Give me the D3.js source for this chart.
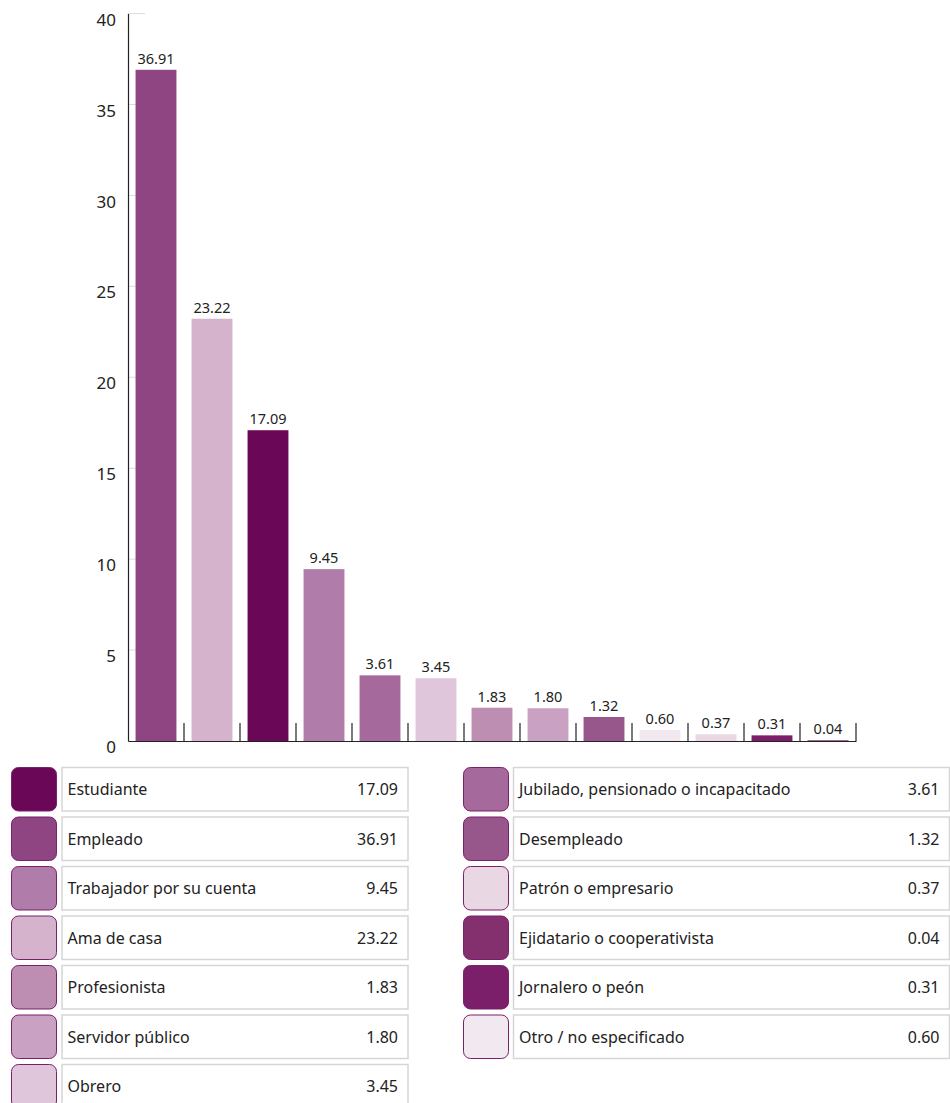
<!DOCTYPE html>
<html><head><meta charset="utf-8">
<script src="https://cdn.jsdelivr.net/npm/d3@7"></script>
<style>html,body{margin:0;padding:0;background:#fff;}svg{display:block;font-family:"Noto Sans","Open Sans",sans-serif;}</style>
</head><body>
<svg id="chart" width="950" height="1103"></svg>
<script>
const categories = ["Empleado","Ama de casa","Estudiante","Trabajador por su cuenta","Jubilado, pensionado o incapacitado","Obrero","Profesionista","Servidor público","Desempleado","Otro / no especificado","Patrón o empresario","Jornalero o peón","Ejidatario o cooperativista"];
const values = [36.91,23.22,17.09,9.45,3.61,3.45,1.83,1.80,1.32,0.60,0.37,0.31,0.04];
const colors = ["#8e4582","#d5b3cd","#6b0757","#b07ca9","#a56a9b","#dfc6da","#bd8eb2","#c9a2c3","#98578b","#f2e8f0","#e9d7e4","#7b1f6a","#84306f"];
const yTicks = [0,5,10,15,20,25,30,35,40];
const legendLeft = ["Estudiante","Empleado","Trabajador por su cuenta","Ama de casa","Profesionista","Servidor público","Obrero"];
const legendRight = ["Jubilado, pensionado o incapacitado","Desempleado","Patrón o empresario","Ejidatario o cooperativista","Jornalero o peón","Otro / no especificado"];

const svg = d3.select("#chart");
const x0 = 128, x1 = 856, yBase = 741, yTop = 13.6;
const x = d3.scaleBand().domain(categories).range([x0, x1]).paddingInner(0.27).paddingOuter(0.135);
const y = d3.scaleLinear().domain([0, 40]).range([yBase, yTop]);
const step = x.step();

// light grid stubs
svg.append("g").selectAll("line").data(yTicks.slice(1)).join("line")
  .attr("x1", x0).attr("x2", x0 + 17).attr("y1", d => y(d)).attr("y2", d => y(d))
  .attr("stroke", "#dcdcdc").attr("stroke-width", 1);

// bars
svg.append("g").selectAll("rect").data(categories).join("rect")
  .attr("x", d => x(d)).attr("width", x.bandwidth())
  .attr("y", (d, i) => y(values[i])).attr("height", (d, i) => yBase - y(values[i]))
  .attr("fill", (d, i) => colors[i]);

// value labels
svg.append("g").selectAll("text").data(categories).join("text")
  .attr("x", d => x(d) + x.bandwidth() / 2).attr("y", (d, i) => y(values[i]) - 6)
  .attr("text-anchor", "middle").attr("font-size", 14.5).attr("fill", "#222")
  .text((d, i) => values[i].toFixed(2));

// y axis
const yAxis = d3.axisLeft(y).tickValues(yTicks).tickSize(0).tickPadding(12);
const gy = svg.append("g").attr("transform", `translate(${x0},0)`).call(yAxis);
gy.select(".domain").attr("stroke", "#222").attr("stroke-width", 1.2);
gy.selectAll("text").attr("font-size", 17).attr("fill", "#222").attr("font-family", "Noto Sans").attr("dy", "0.68em");

// x axis baseline and category ticks
const xAxis = d3.axisBottom(x).tickSize(0).tickFormat("");
const gx = svg.append("g").attr("transform", `translate(0,${yBase})`).call(xAxis);
gx.select(".domain").attr("stroke", "#222").attr("stroke-width", 1.2);
svg.append("g").selectAll("line").data(categories).join("line")
  .attr("x1", d => x(d) - x.paddingInner() * step / 2 + step).attr("x2", d => x(d) - x.paddingInner() * step / 2 + step)
  .attr("y1", yBase - 18).attr("y2", yBase).attr("stroke", "#222").attr("stroke-width", 1.2);

// legend
const colorOf = n => colors[categories.indexOf(n)];
const valOf = n => values[categories.indexOf(n)];
const rowPitch = 49.5, rowTop = 767.5, rowH = 43.5;
function legend(list, sx, sw, bx, bw) {
  const g = svg.append("g");
  const rows = g.selectAll("g").data(list).join("g").attr("transform", (d, i) => `translate(0,${rowTop + i * rowPitch})`);
  rows.append("rect").attr("x", sx).attr("y", 0).attr("width", sw).attr("height", rowH).attr("rx", 7)
    .attr("fill", d => colorOf(d)).attr("stroke", "#7b1f6a").attr("stroke-width", 1);
  rows.append("rect").attr("x", bx).attr("y", 0).attr("width", bw).attr("height", rowH)
    .attr("fill", "#fff").attr("stroke", "#d6d6d6").attr("stroke-width", 1.5);
  rows.append("text").attr("x", bx + 5.5).attr("y", rowH / 2 + 6).attr("font-size", 16).attr("fill", "#222").text(d => d);
  rows.append("text").attr("x", bx + bw - 10).attr("y", rowH / 2 + 6).attr("font-size", 16).attr("fill", "#222")
    .attr("text-anchor", "end").text(d => valOf(d).toFixed(2));
}
legend(legendLeft, 11.5, 45, 62, 346);
legend(legendRight, 463.5, 45, 513.5, 436);
</script>
</body></html>
